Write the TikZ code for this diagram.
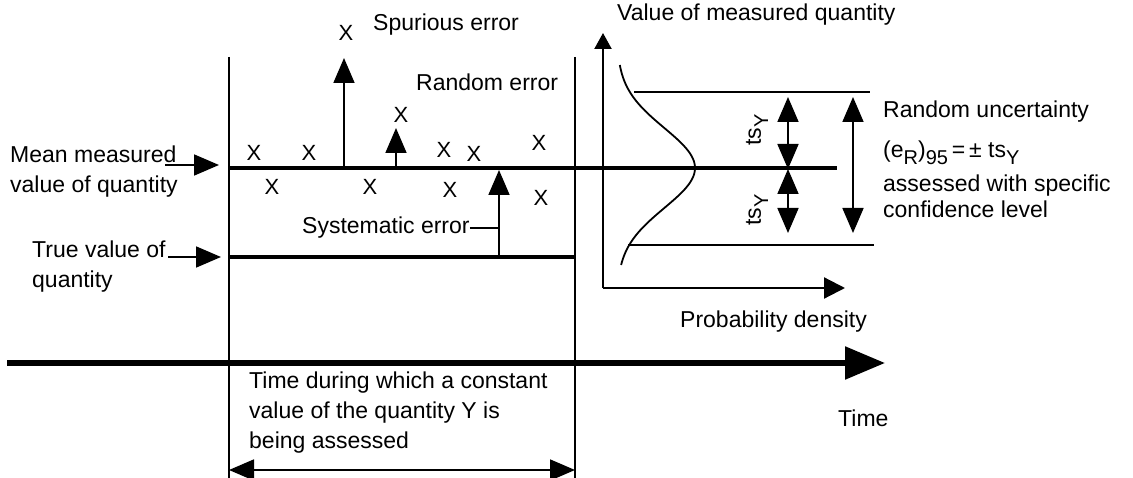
\documentclass[tikz,border=0pt]{standalone}
\usepackage{fontspec}
\setmainfont{Liberation Sans}
\usetikzlibrary{arrows.meta}
\newcommand{\lowsub}[1]{\raisebox{-.6ex}{\fontsize{20}{20}\selectfont #1}}

\begin{document}
\begin{tikzpicture}[x=1pt,y=-1pt,
    lbl/.style={font=\fontsize{23}{30}\selectfont,inner sep=0pt,anchor=west,align=left},
    xmark/.style={font=\fontsize{22}{22}\selectfont,inner sep=0pt},
    ln/.style={line width=1.8pt},
    heavy/.style={line width=4.5pt},
    arr/.style={line width=1.8pt,-{Triangle[length=25pt,width=21pt]}},
    dbl/.style={line width=1.8pt,{Triangle[length=25pt,width=21pt]}-{Triangle[length=25pt,width=21pt]}}
  ]
    \useasboundingbox (0,0) rectangle (1133,478);
    \clip (0,0) rectangle (1133,478);
    % frame of the time window
    \coordinate (lt) at (229,57); \coordinate (lb) at (229,478);
    \coordinate (rt) at (575,57); \coordinate (rb) at (575,478);
    \draw[ln] (lt)--(lb); \draw[ln] (rt)--(rb);
    % mean and true values
    \coordinate (m0) at (229,168); \coordinate (m1) at (837,168);
    \coordinate (t0) at (229,257); \coordinate (t1) at (575,257);
    \draw[heavy] (m0)--(m1);
    \draw[line width=4pt] (t0)--(t1);
    % time axis
    \coordinate (ta0) at (7,363); \coordinate (ta1) at (885,363);
    \draw[line width=5.5pt,-{Triangle[length=40pt,width=32pt]}] (ta0)--(ta1);
    \node[lbl] (timetxt) at (838,418) {Time};
    \node[lbl] (durtxt) at (249,413) {Time during which a constant\\value of the quantity Y is\\being assessed};
    \coordinate (d0) at (229,470); \coordinate (d1) at (575,470);
    \draw[dbl] (d0)--(d1);
    % labels on the left
    \node[lbl] (meantxt) at (10,172) {Mean measured\\value of quantity};
    \node[lbl] (truetxt) at (32,267) {True value of\\quantity};
    \coordinate (ma0) at (165,165); \coordinate (ma1) at (219,165);
    \coordinate (tv0) at (168,257); \coordinate (tv1) at (221,257);
    \draw[arr] (ma0)--(ma1); \draw[arr] (tv0)--(tv1);
    % readings
    \node[xmark] (xa) at (254,153) {X};
    \node[xmark] (xb) at (309,153) {X};
    \node[xmark] (xc) at (444,150) {X};
    \node[xmark] (xd) at (474,154) {X};
    \node[xmark] (xe) at (539,143) {X};
    \node[xmark] (xf) at (272,187) {X};
    \node[xmark] (xg) at (370,187) {X};
    \node[xmark] (xh) at (450,190) {X};
    \node[xmark] (xi) at (541,198) {X};
    \node[xmark] (xs) at (346,33) {X};
    \node[xmark] (xr) at (401,115) {X};
    % errors
    \node[lbl] (spurtxt) at (373,25) {Spurious error};
    \node[lbl] (randtxt) at (416,82) {Random error};
    \node[lbl] (systxt) at (302,228) {Systematic error};
    \coordinate (sp0) at (344,168); \coordinate (sp1) at (344,58);
    \coordinate (rd0) at (396,168); \coordinate (rd1) at (396,128);
    \coordinate (sy0) at (499,257); \coordinate (sy1) at (499,170);
    \coordinate (sy2) at (499,228);
    \draw[arr] (sp0)--(sp1);
    \draw[arr] (rd0)--(rd1);
    \draw[arr] (sy0)--(sy1);
    \draw[ln] (systxt.east)--(sy2);
    % distribution
    \coordinate (va0) at (603,288); \coordinate (va1) at (603,33);
    \coordinate (pa1) at (845,288);
    \draw[line width=2.2pt,-{Triangle[length=16pt,width=17pt]}] (va0)--(va1);
    \draw[line width=2.2pt,-{Triangle[length=21pt,width=21pt]}] (va0)--(pa1);
    \node[lbl] (valtxt) at (617,15) {Value of measured quantity};
    \node[lbl] (probtxt) at (680,322) {Probability density};
    \draw[ln] plot[domain=-103:97,samples=80,smooth] ({617+78*exp(-0.5*(\x/40)^2)},{168+\x});
    \coordinate (u0) at (634,92); \coordinate (u1) at (870,92);
    \coordinate (w0) at (628,245); \coordinate (w1) at (874,245);
    \draw[ln] (u0)--(u1); \draw[ln] (w0)--(w1);
    \coordinate (ts0) at (788,97); \coordinate (ts1) at (788,169); \coordinate (ts2) at (788,233);
    \draw[dbl] (ts0)--(ts1); \draw[dbl] (ts1)--(ts2);
    \node[font=\fontsize{23}{30}\selectfont,inner sep=0pt,rotate=90] (tsup) at (757,130) {ts\lowsub{Y}};
    \node[font=\fontsize{23}{30}\selectfont,inner sep=0pt,rotate=90] (tslo) at (757,210) {ts\lowsub{Y}};
    \coordinate (bg0) at (853,97); \coordinate (bg1) at (853,233);
    \draw[dbl] (bg0)--(bg1);
    \node[lbl] (unctxt) at (883,112) {Random uncertainty};
    \node[lbl] (formula) at (883,153) {(e\lowsub{R})\lowsub{95}\,=\,± ts\lowsub{Y}};
    \node[lbl,font=\fontsize{23}{26}\selectfont] (assess) at (883,196) {assessed with specific\\confidence level};
  \end{tikzpicture}
\end{document}
